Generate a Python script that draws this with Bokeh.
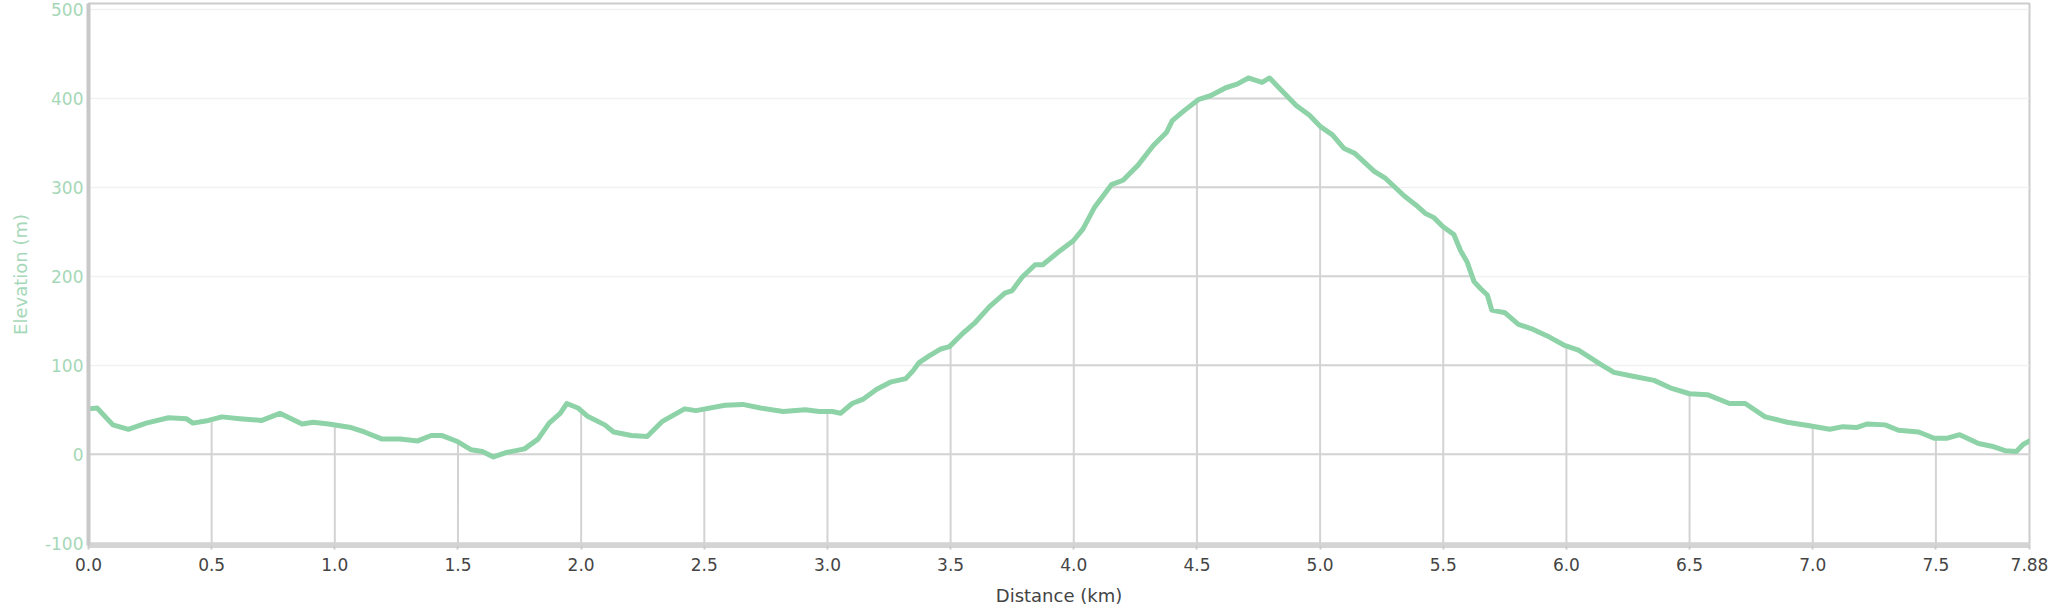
import numpy as np
from bokeh.plotting import figure
from bokeh.models import Range1d, FixedTicker, NumeralTickFormatter
from bokeh.embed import file_html
from bokeh.resources import INLINE

# ---- data ----
distance_km = [0.0, 0.035, 0.099, 0.162, 0.234, 0.325, 0.397, 0.424, 0.487, 0.542,
               0.614, 0.704, 0.777, 0.867, 0.912, 0.975, 1.066, 1.12, 1.192, 1.265,
               1.337, 1.391, 1.436, 1.5, 1.554, 1.599, 1.644, 1.698, 1.77, 1.825,
               1.87, 1.915, 1.942, 1.987, 2.024, 2.096, 2.132, 2.204, 2.268, 2.33,
               2.42, 2.466, 2.584, 2.656, 2.728, 2.82, 2.91, 2.966, 3.02, 3.053,
               3.10, 3.146, 3.2, 3.255, 3.318, 3.348, 3.372, 3.41, 3.457, 3.495,
               3.55, 3.596, 3.658, 3.72, 3.75, 3.79, 3.843, 3.874, 3.936, 3.998,
               4.037, 4.083, 4.153, 4.2, 4.261, 4.323, 4.377, 4.4, 4.447, 4.508,
               4.555, 4.617, 4.663, 4.709, 4.764, 4.795, 4.833, 4.903, 4.957, 5.003,
               5.05, 5.096, 5.142, 5.22, 5.266, 5.343, 5.39, 5.426, 5.462, 5.498,
               5.543, 5.57, 5.597, 5.625, 5.652, 5.679, 5.697, 5.751, 5.805, 5.859,
               5.922, 5.995, 6.049, 6.139, 6.193, 6.265, 6.356, 6.428, 6.5, 6.572,
               6.662, 6.726, 6.807, 6.897, 6.987, 7.069, 7.123, 7.177, 7.222, 7.294,
               7.348, 7.43, 7.493, 7.547, 7.597, 7.673, 7.727, 7.781, 7.827, 7.854,
               7.88]
elevation_m = [51, 52, 33, 28, 35, 41, 40, 35, 38, 42,
               40, 38, 46, 34, 36, 34, 30, 25, 17, 17,
               15, 21, 21, 14, 5, 3, -3, 2, 6, 17,
               35, 46, 57, 52, 43, 33, 25, 21, 20, 37,
               51, 49, 55, 56, 52, 48, 50, 48, 48, 46,
               57, 62, 73, 81, 85, 94, 103, 110, 118, 121,
               136, 147, 166, 181, 184, 199, 213, 213, 227, 240,
               253, 277, 303, 308, 325, 347, 362, 375, 386, 399,
               403, 412, 416, 423, 418, 423, 412, 392, 381, 368,
               359, 344, 338, 318, 310, 290, 280, 271, 266, 256,
               247, 229, 216, 194, 186, 179, 162, 159, 146, 141,
               133, 122, 117, 101, 92, 88, 83, 74, 68, 67,
               57, 57, 42, 36, 32, 28, 31, 30, 34, 33,
               27, 25, 18, 18, 22, 12, 9, 4, 3, 11,
               15]
x_ticks = [0.0, 0.5, 1.0, 1.5, 2.0, 2.5, 3.0, 3.5, 4.0, 4.5, 5.0, 5.5, 6.0, 6.5, 7.0, 7.5, 7.88]
x_tick_labels = ["0.0", "0.5", "1.0", "1.5", "2.0", "2.5", "3.0", "3.5", "4.0", "4.5",
                 "5.0", "5.5", "6.0", "6.5", "7.0", "7.5", "7.88"]
y_ticks = [-100, 0, 100, 200, 300, 400, 500]
y_tick_labels = ["-100", "0", "100", "200", "300", "400", "500"]
x_end = 7.88
y_start, y_end = -102.6, 506.7

FONT = "DejaVu Sans"
LINE_GREEN = "#8dd3a7"
TICK_GREEN = "#a5d8b8"
GRID_DARK = "#d3d3d3"
GRID_FAINT = "#f1f1f1"

p = figure(width=2048, height=616, output_backend="svg", toolbar_location=None,
           x_range=Range1d(0, x_end), y_range=Range1d(y_start, y_end),
           min_border_left=88, min_border_right=19, min_border_top=3, min_border_bottom=71)
p.background_fill_color = "white"
p.border_fill_color = "white"
p.outline_line_color = "#cccccc"
p.outline_line_width = 2

# x axis
xa = p.xaxis[0]
xa.ticker = FixedTicker(ticks=x_ticks)
xa.formatter = NumeralTickFormatter(format="0.0")
xa.major_label_overrides = dict(zip(x_ticks, x_tick_labels))
xa.axis_line_color = "#d4d4d4"
xa.axis_line_width = 5
xa.major_tick_line_color = "#cccccc"
xa.major_tick_line_width = 2
xa.major_tick_out = 4
xa.major_tick_in = 0
xa.minor_tick_line_color = None
xa.major_label_text_font = FONT
xa.major_label_text_font_size = "17px"
xa.major_label_text_color = "#444444"
xa.major_label_text_line_height = 1.0
xa.major_label_standoff = 8
xa.axis_label = "Distance (km)"
xa.axis_label_text_font = FONT
xa.axis_label_text_font_size = "18px"
xa.axis_label_text_font_style = "normal"
xa.axis_label_text_color = "#444444"
xa.axis_label_text_line_height = 1.0
xa.axis_label_standoff = 11

# y axis
ya = p.yaxis[0]
ya.ticker = FixedTicker(ticks=y_ticks)
ya.major_label_overrides = dict(zip(y_ticks, y_tick_labels))
ya.axis_line_color = "#c8c8c8"
ya.axis_line_width = 4
ya.major_tick_line_color = None
ya.major_tick_out = 0
ya.major_tick_in = 0
ya.minor_tick_line_color = None
ya.major_label_text_font = FONT
ya.major_label_text_font_size = "17px"
ya.major_label_text_color = TICK_GREEN
ya.major_label_standoff = 5
ya.axis_label = "Elevation (m)"
ya.axis_label_text_font = FONT
ya.axis_label_text_font_size = "18px"
ya.axis_label_text_font_style = "normal"
ya.axis_label_text_color = TICK_GREEN
ya.axis_label_standoff = 11

p.xgrid.grid_line_color = None
p.ygrid.grid_line_color = GRID_FAINT
p.ygrid.grid_line_width = 1.5

# darker grid parts lying under the elevation curve
dense_x = np.linspace(0, x_end, 6000)
dense_y = np.interp(dense_x, distance_km, elevation_m)
sx0, sy0, sx1, sy1 = [], [], [], []
for lvl in y_ticks:
    if lvl < y_start or lvl > max(elevation_m):
        continue
    mask = (dense_y >= lvl).astype(int)
    if lvl <= 0:
        mask[:] = 1
    edges = np.diff(np.concatenate([[0], mask, [0]]))
    starts = np.where(edges == 1)[0]
    ends = np.where(edges == -1)[0] - 1
    for s, e in zip(starts, ends):
        sx0.append(dense_x[s]); sx1.append(dense_x[e])
        sy0.append(lvl); sy1.append(lvl)
for t in x_ticks[1:-1]:
    sx0.append(t); sx1.append(t)
    sy0.append(y_start); sy1.append(float(np.interp(t, distance_km, elevation_m)))
p.segment(x0=sx0, y0=sy0, x1=sx1, y1=sy1, line_color=GRID_DARK, line_width=2)

p.line(distance_km, elevation_m, line_color=LINE_GREEN, line_width=5,
       line_join="round", line_cap="round")

open("out.html", "w").write(file_html(p, INLINE))
